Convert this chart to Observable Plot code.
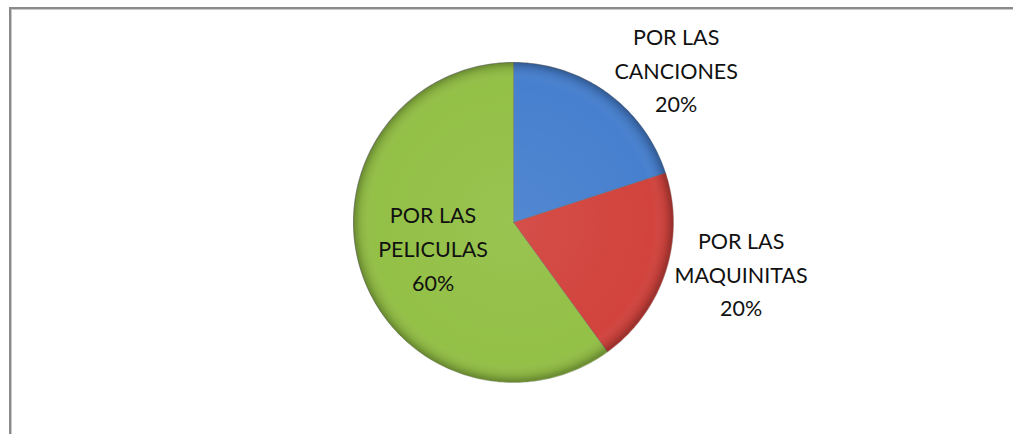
<!DOCTYPE html>
<html>
<head>
<meta charset="utf-8">
<script src="https://cdn.jsdelivr.net/npm/d3@7"></script>
<script src="https://cdn.jsdelivr.net/npm/@observablehq/plot@0.6"></script>
<style>
  html, body { margin: 0; padding: 0; background: #fff; overflow: hidden; }
  #wrap { position: relative; width: 1013px; height: 434px; }
  #frame { position: absolute; left: 9px; top: 7px; width: 1020px; height: 440px;
           border-left: 2px solid #8a8a8a; border-top: 2px solid #8a8a8a;
           box-shadow: inset 1px 1px 0 #c8c8c8; }
  #chart { position: absolute; left: 0; top: 0; }
</style>
</head>
<body>
<div id="wrap"><div id="frame"></div><div id="chart"></div></div>
<script>
// ---- data ----
const categories = ["POR LAS\nCANCIONES", "POR LAS\nMAQUINITAS", "POR LAS\nPELICULAS"];
const values = [20, 20, 60];
const colors = ["#4780cf", "#d2433d", "#93c046"];

// ---- layout (label placement relative to pie, in degrees / radius units) ----
const labelAngle = [47, 103, 251.6];
const labelRadius = [1.39, 1.46, 0.53];

const arcs = d3.pie().sort(null).value(d => d)(values);
const points = [];
arcs.forEach((a, i) => {
  points.push({slice: categories[i], x: 0, y: 0});
  const n = Math.max(2, Math.ceil((a.endAngle - a.startAngle) / (Math.PI / 180)));
  for (let k = 0; k <= n; k++) {
    const t = a.startAngle + (a.endAngle - a.startAngle) * k / n;
    points.push({slice: categories[i], x: Math.sin(t), y: Math.cos(t)});
  }
  points.push({slice: categories[i], x: 0, y: 0});
});

const labels = categories.map((c, i) => {
  const t = labelAngle[i] * Math.PI / 180;
  return {text: `${c}\n${values[i]}%`, x: labelRadius[i] * Math.sin(t), y: labelRadius[i] * Math.cos(t)};
});

// shading overlay (bevel-like rim) drawn with Plot's scales
const shade = (index, scales) => {
  const g = d3.create("svg:g");
  const cx = scales.x(0), cy = scales.y(0), r = scales.x(1) - scales.x(0);
  const defs = g.append("defs");
  const rg = defs.append("radialGradient").attr("id", "rim").attr("gradientUnits", "userSpaceOnUse")
    .attr("cx", cx).attr("cy", cy).attr("r", r);
  rg.append("stop").attr("offset", "0").attr("stop-color", "#fff").attr("stop-opacity", 0.06);
  rg.append("stop").attr("offset", "0.88").attr("stop-color", "#fff").attr("stop-opacity", 0);
  rg.append("stop").attr("offset", "0.96").attr("stop-color", "#000").attr("stop-opacity", 0.10);
  rg.append("stop").attr("offset", "1").attr("stop-color", "#000").attr("stop-opacity", 0.30);
  const line = d3.line().x(d => scales.x(d.x)).y(d => scales.y(d.y));
  categories.forEach(c => {
    g.append("path").attr("d", line(points.filter(p => p.slice === c)) + "Z")
      .attr("fill", "url(#rim)");
  });
  return g.node();
};

const chart = Plot.plot({
  width: 1013,
  height: 434,
  margin: 0,
  x: {domain: [-1, 1], range: [353, 673], axis: null},
  y: {domain: [-1, 1], range: [382, 62], axis: null},
  color: {domain: categories, range: colors},
  style: {background: "transparent"},
  marks: [
    Plot.line(points, {x: "x", y: "y", z: "slice", fill: "slice", stroke: "#5a5a5a", strokeWidth: 0.6, strokeOpacity: 0.6}),
    shade,
    Plot.text(labels, {x: "x", y: "y", text: "text", fontSize: 21.5, lineHeight: 1.56, dy: -3,
      fill: "#111", fontFamily: "Lato, sans-serif", textAnchor: "middle", lineAnchor: "middle"})
  ]
});
document.getElementById("chart").appendChild(chart);
</script>
</body>
</html>
